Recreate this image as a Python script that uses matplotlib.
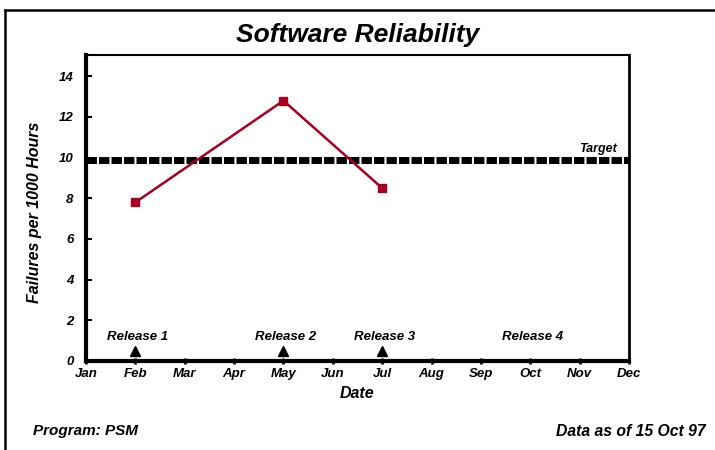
import matplotlib
matplotlib.use("Agg")
import matplotlib.pyplot as plt
from matplotlib.lines import Line2D

plt.rcParams['font.family'] = ['Liberation Sans', 'DejaVu Sans']

months = ["Jan", "Feb", "Mar", "Apr", "May", "Jun", "Jul", "Aug", "Sep", "Oct", "Nov", "Dec"]
failure_months = ["Feb", "May", "Jul"]
failure_values = [7.8, 12.8, 8.5]
target_value = 9.9
release_labels = ["Release 1", "Release 2", "Release 3", "Release 4"]
release_months = ["Feb", "May", "Jul", "Oct"]
release_marked = [True, True, True, False]
y_ticks = [0, 2, 4, 6, 8, 10, 12, 14]

fig = plt.figure(figsize=(7.15, 4.5), dpi=100)
ax = fig.add_axes([0.1203, 0.1978, 0.7594, 0.6802])

xpos = {m: i for i, m in enumerate(months)}

# target line
ax.plot([0, 11], [target_value, target_value], color='black', linewidth=5,
        linestyle=(0, (1.5, 0.3)), solid_capstyle='butt', dash_capstyle='butt', zorder=2)
ax.text(10.75, target_value + 0.25, "Target", ha='right', va='bottom',
        fontsize=9, fontweight='bold', fontstyle='italic')

# failures
fx = [xpos[m] for m in failure_months]
ax.plot(fx, failure_values, color='#A50021', linewidth=1.8, marker='s', markersize=5.5,
        zorder=3)

# releases
for lab, m, mk in zip(release_labels, release_months, release_marked):
    x = xpos[m]
    if mk:
        ax.plot([x], [0.5], marker='^', color='black', markersize=7, zorder=4, clip_on=False)
    ax.text(x + 0.05, 1.2, lab, ha='center', va='center', fontsize=9.5,
            fontweight='bold', fontstyle='italic')

ax.set_xlim(0, 11)
ax.set_ylim(0, 15.05)
ax.set_xticks(range(len(months)))
ax.set_xticklabels(months)
ax.set_yticks(y_ticks)
ax.set_yticklabels([str(v) for v in y_ticks])

for lbl in ax.get_xticklabels() + ax.get_yticklabels():
    lbl.set_fontweight('bold')
    lbl.set_fontstyle('italic')
    lbl.set_fontsize(9.5)

ax.tick_params(axis='x', direction='inout', length=4, width=2, pad=3)
ax.tick_params(axis='y', direction='in', length=4, width=1.5, pad=9)

ax.spines['left'].set_linewidth(3)
ax.spines['bottom'].set_linewidth(3)
ax.spines['top'].set_linewidth(1.5)
ax.spines['right'].set_linewidth(2)

ax.set_xlabel("Date", fontsize=11.5, fontweight='bold', fontstyle='italic', labelpad=4.5)
ax.set_ylabel("Failures per 1000 Hours", fontsize=11.5, fontweight='bold',
              fontstyle='italic')
ax.yaxis.set_label_coords(-0.081, 0.487)

fig.text(0.5, 1 - 35 / 450, "Software Reliability", ha='center', va='center',
         fontsize=19, fontweight='bold', fontstyle='italic')
fig.text(33 / 715, 1 - 431 / 450, "Program: PSM", ha='left', va='center',
         fontsize=11, fontweight='bold', fontstyle='italic')
fig.text(706 / 715, 1 - 431 / 450, "Data as of 15 Oct 97", ha='right', va='center',
         fontsize=11.3, fontweight='bold', fontstyle='italic')

# figure border
fig.add_artist(Line2D([5 / 715, 5 / 715], [0, 1 - 10 / 450], transform=fig.transFigure,
                      color='black', linewidth=1.8))
fig.add_artist(Line2D([5 / 715, 1], [1 - 10 / 450, 1 - 10 / 450], transform=fig.transFigure,
                      color='black', linewidth=1.8))

fig.savefig("out.png", dpi=100)
